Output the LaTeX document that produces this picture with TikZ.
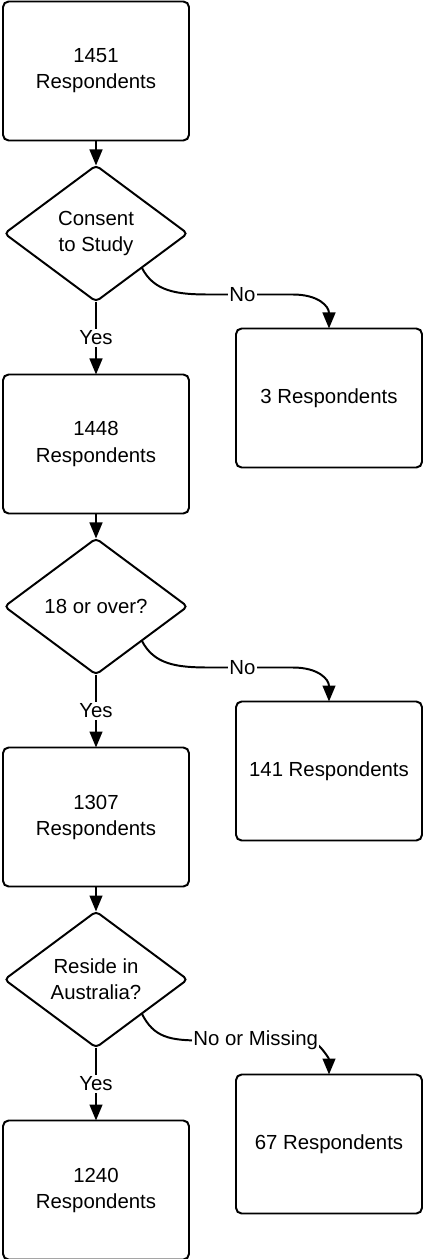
\documentclass[tikz,border=0pt]{standalone}
\usepackage{fontspec}
\setmainfont{Liberation Sans}
\usetikzlibrary{positioning, arrows.meta, shapes.geometric}

\begin{document}
\begin{tikzpicture}[
	font=\fontsize{14.5}{18.5}\selectfont,
	resp/.style={
		rectangle,
		rounded corners=4pt,
		draw=black,
		line width=1.4pt,
		fill=white,
		outer sep=0pt,
		minimum width=4.65cm,
		minimum height=3.475cm,
		align=center
	},
	check/.style={
		diamond,
		rounded corners=3pt,
		draw=black,
		line width=1.4pt,
		fill=white,
		inner sep=0pt,
		outer sep=0pt,
		aspect=1.35,
		minimum width=4.575cm,
		minimum height=3.4cm,
		align=center
	},
	flecha/.style={
		-{Triangle[length=0.4cm, width=0.32cm]},
		line width=1.4pt,
		black
	},
	lbl/.style={
		fill=white,
		inner sep=1pt
	}
	]
	\useasboundingbox (-2.4,1.775) rectangle (8.225,-29.7);
	\node[resp] (n1451) {1451\\Respondents};
	\node[check, below=0.625cm of n1451] (consent) {Consent\\to Study};
	\node[resp, below=1.825cm of consent] (n1448) {1448\\Respondents};
	\node[check, below=0.625cm of n1448] (age) {18 or over?};
	\node[resp, below=1.825cm of age] (n1307) {1307\\Respondents};
	\node[check, below=0.625cm of n1307] (reside) {Reside in\\Australia?};
	\node[resp, below=1.825cm of reside] (n1240) {1240\\Respondents};
	% excluded
	\node[resp, right=1.175cm of n1448, yshift=1.15cm] (out3) {3 Respondents};
	\node[resp, right=1.175cm of n1307, yshift=1.15cm] (out141) {141 Respondents};
	\node[resp, right=1.175cm of n1240, yshift=1.15cm] (out67) {67 Respondents};
	% main line
	\draw[flecha] (n1451) -- (consent);
	\draw[flecha] (consent) -- node[lbl] {Yes} (n1448);
	\draw[flecha] (n1448) -- (age);
	\draw[flecha] (age) -- node[lbl] {Yes} (n1307);
	\draw[flecha] (n1307) -- (reside);
	\draw[flecha] (reside) -- node[lbl] {Yes} (n1240);
	% no branches
	\draw[flecha] (consent.south east)
	.. controls +(0.3,-0.6) and +(-0.8,0) .. ++(1.675,-0.675)
	-- node[lbl, pos=0.4] {No} ++(2.1,0)
	.. controls +(0.65,0) and +(0,0.55) .. (out3.north);
	\draw[flecha] (age.south east)
	.. controls +(0.3,-0.6) and +(-0.8,0) .. ++(1.675,-0.675)
	-- node[lbl, pos=0.4] {No} ++(2.1,0)
	.. controls +(0.65,0) and +(0,0.55) .. (out141.north);
	\draw[flecha] (reside.south east)
	.. controls +(0.3,-0.6) and +(-0.8,0) .. ++(1.5,-0.675)
	-- node[lbl, pos=0.5] {No or Missing} ++(2.7,0)
	.. controls +(0.2,0) and +(0,0.4) .. (out67.north);
\end{tikzpicture}
\end{document}
